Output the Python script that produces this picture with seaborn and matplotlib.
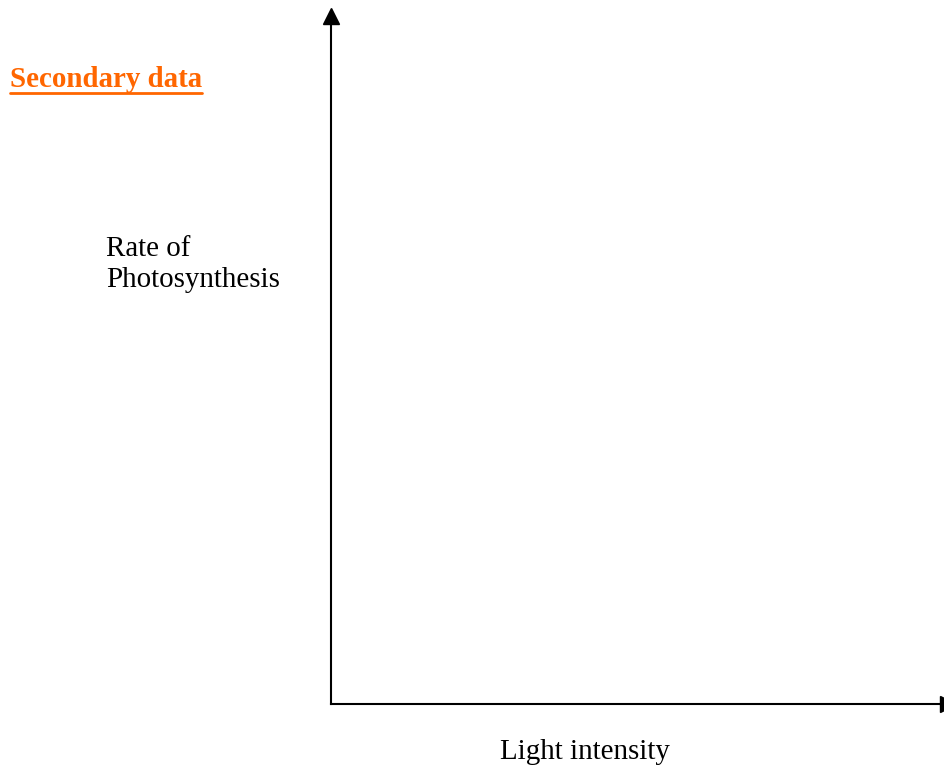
import matplotlib.pyplot as plt
import seaborn as sns

# Blank "secondary data" sketch axes: no values, just labels
title_text = "Secondary data"
y_label_lines = ["Rate of", "Photosynthesis"]
x_label = "Light intensity"

sns.set_style("white")
plt.rcParams['font.family'] = ['Liberation Serif', 'DejaVu Serif']
plt.rcParams['text.color'] = 'black'

W, H = 945, 768
fig = plt.figure(figsize=(W / 100, H / 100), dpi=100)

# axes placed in pixel terms: origin at (331, 704), top at 16, right at 948
left, bottom, right, top = 331, 704, 948, 16
ax = fig.add_axes([left / W, (H - bottom) / H, (right - left) / W, (bottom - top) / H])
ax.set_xlim(0, 1)
ax.set_ylim(0, 1)
ax.set_xticks([])
ax.set_yticks([])
for side in ["top", "right"]:
    ax.spines[side].set_visible(False)
for side in ["left", "bottom"]:
    ax.spines[side].set_linewidth(1.5)
    ax.spines[side].set_color("black")
ax.patch.set_alpha(0)

# arrow heads at the ends of the axes
ax.plot([0], [1], marker="^", markersize=12, color="black",
        transform=ax.transAxes, clip_on=False)
ax.plot([1], [0], marker=">", markersize=12, color="black",
        transform=ax.transAxes, clip_on=False)

fs = 20.9

# title, bold orange and underlined
t = fig.text(10 / W, 1 - 87 / H, title_text, fontsize=fs, fontweight="bold",
             color="#FF6600", va="baseline", ha="left")
fig.canvas.draw()
bb = t.get_window_extent()
uy = 1 - 93 / H
fig.add_artist(plt.Line2D([bb.x0 / W, bb.x1 / W], [uy, uy], color="#FF6600",
                          linewidth=2.0, transform=fig.transFigure))

# y label, two lines
fig.text(106 / W, 1 - 256 / H, y_label_lines[0], fontsize=fs, va="baseline",
         ha="left", color="black")
fig.text(106 / W, 1 - 287 / H, y_label_lines[1], fontsize=fs, va="baseline",
         ha="left", color="black")

# x label
fig.text(585 / W, 1 - 759 / H, x_label, fontsize=fs, va="baseline", ha="center",
         color="black")

plt.savefig("out.png", dpi=100)
